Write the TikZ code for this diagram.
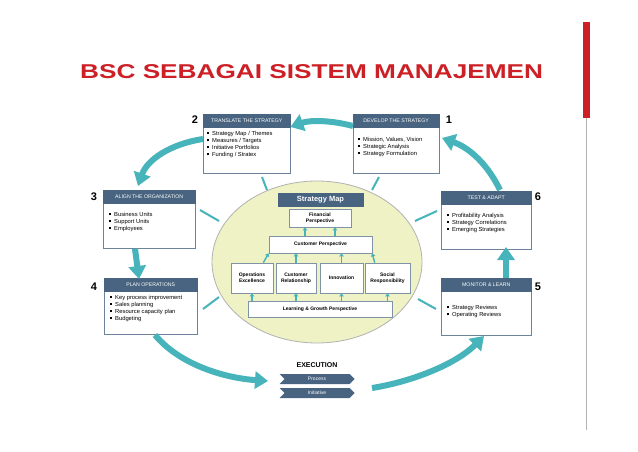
\documentclass[tikz,border=0pt]{standalone}
\usepackage{fontspec}
\setmainfont{Liberation Sans}
\usetikzlibrary{arrows.meta,shapes.symbols,shapes.geometric}
\definecolor{teal1}{RGB}{70,180,186}
\definecolor{hdrc}{RGB}{72,100,128}
\definecolor{redt}{RGB}{204,32,38}
\definecolor{ellc}{RGB}{238,242,196}
\newcommand{\bsq}{\rule[0.3ex]{2pt}{2pt}\hspace{3pt}}
\begin{document}
\begin{tikzpicture}[x=1pt,y=-1pt,
  hdr/.style={draw=hdrc,fill=hdrc,text=white,font=\fontsize{5.2}{6}\selectfont,inner sep=0pt,anchor=north west,minimum height=13pt},
  body/.style={draw=hdrc!80,fill=white,line width=0.8pt,inner sep=0pt,anchor=north west},
  items/.style={font=\fontsize{5.8}{7}\selectfont,align=left,anchor=north west,inner sep=0pt},
  num/.style={font=\bfseries\fontsize{11}{12}\selectfont},
  sbox/.style={draw=hdrc!70,fill=white,line width=0.7pt,font=\bfseries\fontsize{5}{6}\selectfont,align=center,inner sep=0pt},
  big/.style={teal1,line width=6pt,-{Triangle[length=13pt,width=17pt]}},
  tie/.style={teal1,line width=2pt},
  sm/.style={teal1,line width=1.4pt,-{Triangle[length=3pt,width=4.5pt]}}]
\useasboundingbox (0,0) rectangle (638,452);
\fill[white] (0,0) rectangle (638,452);
% title and red bar
\node[redt,font=\bfseries\fontsize{20}{21}\selectfont,anchor=west,inner sep=0pt] (title) at (80,72) {\scalebox{1.31}[1]{BSC SEBAGAI SISTEM MANAJEMEN}};
\fill[redt] (583,22) rectangle (590,118);
\draw[gray!60,line width=0.8pt] (586.5,118) -- (586.5,430);
% ellipse
\node[draw=gray!60,fill=ellc,ellipse,minimum width=210pt,minimum height=162pt,line width=0.8pt] (E) at (317,262) {};
% boxes
\node[body,minimum width=87pt,minimum height=59pt] (tb) at (203,114) {};
\node[hdr,minimum width=87pt] (th) at (203,114) {TRANSLATE THE STRATEGY};
\node[items] (ti) at (207,131) {\bsq Strategy Map / Themes\\\bsq Measures / Targets\\\bsq Initiative Portfolios\\\bsq Funding / Stratex};
\node[num] (n2) at (195,120) {2};

\node[body,minimum width=86pt,minimum height=59pt] (db) at (353,114) {};
\node[hdr,minimum width=86pt] (dh) at (353,114) {DEVELOP THE STRATEGY};
\node[items] (di) at (358,137) {\bsq Mission, Values, Vision\\\bsq Strategic Analysis\\\bsq Strategy Formulation};
\node[num] (n1) at (449,120) {1};

\node[body,minimum width=92pt,minimum height=58pt] (ab) at (103,190) {};
\node[hdr,minimum width=92pt] (ah) at (103,190) {ALIGN THE ORGANIZATION};
\node[items] (ai) at (109,212) {\bsq Business Units\\\bsq Support Units\\\bsq Employees};
\node[num] (n3) at (94,197) {3};

\node[body,minimum width=93pt,minimum height=56pt] (pb) at (104,278) {};
\node[hdr,minimum width=93pt] (ph) at (104,278) {PLAN OPERATIONS};
\node[items] (pi) at (110,295) {\bsq Key process improvement\\\bsq Sales planning\\\bsq Resource capacity plan\\\bsq Budgeting};
\node[num] (n4) at (94,287) {4};

\node[body,minimum width=90pt,minimum height=58pt] (xb) at (441,191) {};
\node[hdr,minimum width=90pt] (xh) at (441,191) {TEST \& ADAPT};
\node[items] (xi) at (447,213) {\bsq Profitability Analysis\\\bsq Strategy Correlations\\\bsq Emerging Strategies};
\node[num] (n6) at (538,197) {6};

\node[body,minimum width=90pt,minimum height=57pt] (mb) at (441,278) {};
\node[hdr,minimum width=90pt] (mh) at (441,278) {MONITOR \& LEARN};
\node[items] (mi) at (447,305) {\bsq Strategy Reviews\\\bsq Operating Reviews};
\node[num] (n5) at (538,287) {5};

% strategy map
\node[hdr,anchor=center,minimum width=85pt,font=\bfseries\fontsize{7.5}{8}\selectfont] (sm) at (320.5,199.5) {Strategy Map};
\node[sbox,minimum width=62pt,minimum height=18pt] (fin) at (320,218) {Financial\\Perspective};
\node[sbox,minimum width=103pt,minimum height=17pt] (cus) at (320.5,244.5) {Customer Perspective};
\node[sbox,minimum width=42pt,minimum height=30pt] (ope) at (252,278) {Operations\\Excellence};
\node[sbox,minimum width=40pt,minimum height=30pt] (rel) at (296,278) {Customer\\Relationship};
\node[sbox,minimum width=43pt,minimum height=30pt] (inn) at (341.5,278) {Innovation};
\node[sbox,minimum width=45pt,minimum height=30pt] (soc) at (387.5,278) {Social\\Responsibility};
\node[sbox,minimum width=144pt,minimum height=16pt] (lg) at (320,309) {Learning \& Growth Perspective};
\draw[sm] (cus.north -| 305,0) -- (fin.south -| 305,0);
\draw[sm] (cus.north -| 335,0) -- (fin.south -| 335,0);
\draw[sm] (ope.north east) ++(-10,0) -- (cus.south west);
\draw[sm] (rel.north) -- (cus.south -| rel.north);
\draw[sm] (inn.north) -- (cus.south -| inn.north);
\draw[sm] (soc.north west) ++(10,0) -- (cus.south east);
\draw[sm] (lg.north -| ope.south) -- (ope.south);
\draw[sm] (lg.north -| rel.south) -- (rel.south);
\draw[sm] (lg.north -| inn.south) -- (inn.south);
\draw[sm] (lg.north -| soc.south) -- (soc.south);

% execution
\node[font=\bfseries\fontsize{7}{8}\selectfont] (ex) at (317,365) {EXECUTION};
\node[signal,signal from=west,signal to=east,fill=hdrc,text=white,minimum width=75pt,minimum height=10pt,inner sep=0pt,font=\fontsize{5}{5}\selectfont] (pr) at (317,379) {Process};
\node[signal,signal from=west,signal to=east,fill=hdrc,text=white,minimum width=75pt,minimum height=10pt,inner sep=0pt,font=\fontsize{5}{5}\selectfont] (ini) at (317,393) {Initiative};

% tie lines
\coordinate (t1) at (262,177); \coordinate (t2) at (267,190);
\coordinate (d1) at (379,177); \coordinate (d2) at (372,190);
\coordinate (a1) at (200,210); \coordinate (a2) at (219,221);
\coordinate (x1) at (437,211); \coordinate (x2) at (415,221);
\coordinate (p1) at (203,309); \coordinate (p2) at (219,297);
\coordinate (m1) at (418,299); \coordinate (m2) at (436,309);
\draw[tie] (t1) -- (t2); \draw[tie] (d1) -- (d2);
\draw[tie] (a1) -- (a2); \draw[tie] (x1) -- (x2);
\draw[tie] (p1) -- (p2); \draw[tie] (m1) -- (m2);

% big arrows
\draw[big] (db.west |- 0,126) .. controls (330,120) and (310,120) .. (th.east |- 0,127);
\draw[big] (tb.west |- 0,139) .. controls (170,144) and (147,160) .. (138,186);
\draw[big] (ab.south -| 135,0) -- (139,279);
\draw[big] (155,335) .. controls (180,365) and (225,378) .. (268,381);
\draw[big] (372,388) .. controls (410,382) and (455,365) .. (484,336);
\draw[big] (mh.north -| 506,0) -- (506,247);
\draw[big] (500,190) .. controls (488,165) and (470,148) .. (442,138);
\end{tikzpicture}
\end{document}
